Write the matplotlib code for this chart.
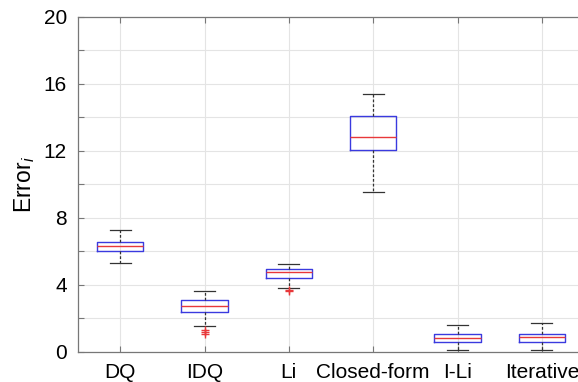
import matplotlib
matplotlib.use('Agg')
import matplotlib.pyplot as plt

plt.rcParams['font.family'] = ['Liberation Sans', 'DejaVu Sans']
plt.rcParams['mathtext.fontset'] = 'custom'
plt.rcParams['mathtext.rm'] = 'Liberation Sans'
plt.rcParams['mathtext.it'] = 'Liberation Sans:italic'

methods = ['DQ', 'IDQ', 'Li', 'Closed-form', 'I-Li', 'Iterative']
whislo = [5.32, 1.55, 3.79, 9.56, 0.10, 0.10]
q1 = [6.00, 2.37, 4.40, 12.04, 0.56, 0.60]
med = [6.34, 2.73, 4.76, 12.80, 0.84, 0.88]
q3 = [6.58, 3.07, 4.92, 14.10, 1.04, 1.06]
whishi = [7.27, 3.65, 5.24, 15.40, 1.62, 1.70]
fliers = [[], [1.30, 1.20, 1.05], [3.68, 3.62], [], [], []]

stats = []
for i, name in enumerate(methods):
    stats.append(dict(label=name, whislo=whislo[i], q1=q1[i], med=med[i],
                      q3=q3[i], whishi=whishi[i], fliers=fliers[i]))

fig = plt.figure(figsize=(5.78, 3.82), dpi=100)
ax = fig.add_axes([78 / 578, 30.3 / 382, 506 / 578, 334.7 / 382])

ax.bxp(stats, widths=0.55, capwidths=0.25, showfliers=True,
       boxprops=dict(color='#3a3adf', lw=1.0),
       medianprops=dict(color='#e8383a', lw=1.0),
       whiskerprops=dict(color='#333333', lw=0.9, linestyle=(0, (2.2, 1.6))),
       capprops=dict(color='#333333', lw=0.9),
       flierprops=dict(marker='+', markeredgecolor='#e8383a', markersize=6,
                       markeredgewidth=1.0, linestyle='none'))

ax.set_xlim(0.5, 6.5)
ax.set_ylim(0, 20)
ax.set_yticks([0, 4, 8, 12, 16, 20])
ax.set_yticks([2, 6, 10, 14, 18], minor=True)
ax.set_xticks(range(1, 7))
ax.set_xticklabels(methods)
ax.grid(True, which='both', color='#e4e4e4', lw=0.8)
ax.set_axisbelow(True)
ax.tick_params(which='both', direction='in', top=True, right=True,
               length=4, width=0.8, color='#777777', labelsize=15, pad=8)
for s in ax.spines.values():
    s.set_color('#777777')
    s.set_linewidth(0.9)

ax.set_ylabel('Error$_{\\mathit{i}}$', fontsize=16.5, labelpad=5)

fig.savefig('out.png', dpi=100)
